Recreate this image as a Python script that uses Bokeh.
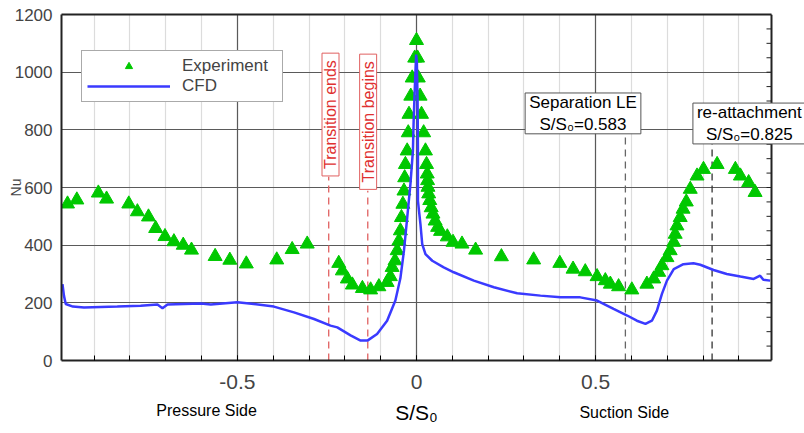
from bokeh.plotting import figure
from bokeh.layouts import column
from bokeh.models import (Range1d, FixedTicker, LinearAxis, Label, Legend, LegendItem,
                          CustomJSTickFormatter, Span, Grid)
from bokeh.core.properties import value
from bokeh.embed import file_html
from bokeh.resources import INLINE

# ---------------- data ----------------
exp_s = [-0.974, -0.948, -0.888, -0.865, -0.803, -0.779, -0.748, -0.728, -0.702, -0.677,
         -0.651, -0.628, -0.562, -0.521, -0.475, -0.390, -0.347, -0.305, -0.217, -0.207,
         -0.193, -0.179, -0.151, -0.128, -0.105, -0.082, -0.073, -0.068, -0.060, -0.054,
         -0.049, -0.045, -0.042, -0.038, -0.035, -0.033, -0.031, -0.026, -0.023, -0.021,
         -0.016, -0.012, -0.005, 0.000, 0.003, 0.005, 0.010, 0.014, 0.020, 0.025,
         0.028, 0.030, 0.031, 0.032, 0.034, 0.037, 0.041, 0.046, 0.052, 0.059,
         0.067, 0.086, 0.102, 0.127, 0.165, 0.237, 0.327, 0.400, 0.437, 0.471,
         0.504, 0.527, 0.541, 0.564, 0.601, 0.643, 0.662, 0.676, 0.685, 0.699,
         0.708, 0.718, 0.722, 0.727, 0.736, 0.744, 0.753, 0.764, 0.783, 0.801,
         0.839, 0.890, 0.904, 0.927, 0.945]
exp_nu = [543, 557, 581, 560, 543, 516, 498, 458, 430, 412,
          400, 383, 361, 348, 335, 349, 385, 404, 337, 311,
          283, 262, 250, 245, 256, 271, 291, 323, 346, 381,
          415, 450, 496, 542, 588, 634, 680, 727, 790, 854,
          917, 980, 1049, 1110, 1049, 980, 917, 854, 790, 727,
          680, 647, 624, 601, 578, 555, 530, 508, 484, 462,
          448, 429, 410, 404, 383, 360, 349, 337, 317, 308,
          291, 277, 265, 256, 245, 265, 283, 306, 329, 357,
          381, 410, 438, 467, 496, 525, 550, 594, 640, 663,
          680, 663, 640, 617, 583]

cfd_s = [-0.988, -0.984, -0.979, -0.959, -0.928, -0.835, -0.770, -0.723, -0.709, -0.695,
         -0.602, -0.574, -0.500, -0.454, -0.398, -0.342, -0.286, -0.240, -0.221, -0.184,
         -0.156, -0.137, -0.110, -0.082, -0.059, -0.045, -0.035, -0.026, -0.017, -0.010,
         -0.008, -0.004, -0.001, 0.001, 0.003, 0.004, 0.004, 0.011, 0.016, 0.025,
         0.044, 0.076, 0.104, 0.160, 0.216, 0.281, 0.346, 0.402, 0.457, 0.504,
         0.550, 0.588, 0.615, 0.639, 0.657, 0.671, 0.685, 0.699, 0.718, 0.745,
         0.773, 0.792, 0.829, 0.866, 0.904, 0.941, 0.959, 0.968, 0.987]
cfd_nu = [265, 225, 196, 187, 184, 187, 190, 194, 181, 194,
          198, 194, 202, 196, 187, 167, 144, 121, 115, 87,
          69, 69, 92, 138, 208, 285, 381, 495, 611, 727,
          830, 969, 1061, 1038, 900, 727, 554, 473, 404, 369,
          346, 323, 306, 277, 254, 233, 225, 219, 219, 208,
          179, 156, 138, 127, 138, 173, 231, 277, 317, 334,
          337, 332, 314, 300, 291, 283, 294, 280, 277]

x_ticks = [-0.5, 0, 0.5]
x_tick_labels = ["-0.5", "0", "0.5"]
x_minor_ticks = [-0.9, -0.8, -0.7, -0.6, -0.5, -0.4, -0.3, -0.2, -0.1, 0.0,
                 0.1, 0.2, 0.3, 0.4, 0.5, 0.6, 0.7, 0.8, 0.9]
y_ticks = [0, 200, 400, 600, 800, 1000, 1200]
y_right_ticks = list(range(0, 1201, 50))

x_axis_title = "S/S₀"
side_labels = ["Pressure Side", "Suction Side"]
side_label_s = [-0.586, 0.580]

transition_s = [-0.245, -0.136]          # transition ends / begins
separation_s = 0.583
reattach_s = 0.825

X_MIN, X_MAX = -0.9908, 0.9908          # plotted S/S0 extent (frame box)
X_VIEW_MAX = 1.0829                      # view extends to the page edge for the right label

FONT = "Liberation Sans"
AX = "#222222"

p = figure(width=804, height=399, x_range=Range1d(X_MIN, X_VIEW_MAX), y_range=Range1d(0, 1200),
           output_backend="svg", toolbar_location=None,
           min_border_left=61, min_border_right=0, min_border_top=14, min_border_bottom=39)
p.title.visible = False
p.background_fill_color = "white"
p.border_fill_color = "white"
p.outline_line_color = None

# x axis
xa = p.xaxis[0]
xa.ticker = FixedTicker(ticks=x_ticks, minor_ticks=x_minor_ticks)
xa.major_label_overrides = dict(zip(x_ticks, x_tick_labels))
xa.bounds = (X_MIN, X_MAX)
xa.major_tick_in = 5
xa.major_tick_out = 0
xa.minor_tick_in = 5
xa.minor_tick_out = 0
xa.major_label_standoff = 14
xa.major_label_text_font = FONT
xa.major_label_text_font_size = "21px"
xa.axis_line_color = AX
xa.axis_line_width = 2

# y axis
ya = p.yaxis[0]
ya.ticker = FixedTicker(ticks=y_ticks)
ya.major_tick_in = 0
ya.major_tick_out = 0
ya.minor_tick_line_color = None
ya.major_label_standoff = 9
ya.major_label_text_font = FONT
ya.major_label_text_font_size = "17px"
ya.axis_label = "Nu"
ya.axis_label_text_font = FONT
ya.axis_label_text_font_size = "14px"
ya.axis_label_text_font_style = "normal"
ya.axis_label_standoff = -12
ya.axis_line_color = AX
ya.axis_line_width = 2

# top border as an axis without ticks
ta = LinearAxis(ticker=FixedTicker(ticks=[]), bounds=(X_MIN, X_MAX),
                formatter=CustomJSTickFormatter(code="return ''"),
                major_tick_in=0, major_tick_out=0, minor_tick_line_color=None,
                major_label_standoff=0, axis_line_color=AX, axis_line_width=2)
p.add_layout(ta, "above")

# right border and inner ticks
p.add_layout(Span(location=X_MAX, dimension="height", line_color=AX, line_width=2))
p.ray(x=[X_MAX] * len(y_right_ticks), y=y_right_ticks, length=5, length_units="screen",
      angle=180, angle_units="deg", line_color=AX, line_width=1)

# grids
p.xgrid.grid_line_color = "#5a5a5a"
p.xgrid.grid_line_width = 1.2
p.xgrid.minor_grid_line_color = "#dcdcdc"
p.xgrid.minor_grid_line_width = 1.2
if "cross_bounds" in Grid.properties():
    p.ygrid.cross_bounds = (X_MIN, X_MAX)
    p.ygrid.grid_line_color = "#5a5a5a"
    p.ygrid.grid_line_width = 1.2
else:
    p.ygrid.visible = False
    p.segment(x0=[X_MIN] * len(y_ticks), y0=y_ticks, x1=[X_MAX] * len(y_ticks), y1=y_ticks,
              line_color="#5a5a5a", line_width=1.2)

# dashed marker lines
p.segment(x0=transition_s, y0=[0, 0], x1=transition_s, y1=[637, 589],
          line_color="#e06060", line_width=1.3, line_dash="7 5")
p.segment(x0=[separation_s], y0=[0], x1=[separation_s], y1=[786],
          line_color="#666666", line_width=1.3, line_dash="7 5")
p.segment(x0=[reattach_s], y0=[0], x1=[reattach_s], y1=[752],
          line_color="#333333", line_width=1.3, line_dash="7 5")

# data
r_exp = p.scatter(exp_s, exp_nu, marker="triangle", size=14,
                  fill_color="#00c800", line_color="#00c800")
r_cfd = p.line(cfd_s, cfd_nu, line_color="#3a3aff", line_width=2.5)

legend = Legend(items=[LegendItem(label="Experiment", renderers=[r_exp]),
                       LegendItem(label="CFD", renderers=[r_cfd])],
                location=(20, 258), padding=5, margin=0, spacing=0,
                glyph_width=83, glyph_height=18, label_height=18, label_standoff=12,
                label_width=95,
                label_text_font=FONT, label_text_font_size="17px",
                border_line_color="#555555", border_line_width=1,
                background_fill_color="white", background_fill_alpha=1)
p.add_layout(legend)

# annotations
for s, nu, txt in [(-0.240, 853, "Transition ends"), (-0.135, 828, "Transition begins")]:
    p.add_layout(Label(x=s, y=nu, text=txt, angle=90, angle_units="deg",
                       text_align="center", text_baseline="middle",
                       text_font=FONT, text_font_size="16px", text_color="#e03030",
                       text_line_height=1.0,
                       border_line_color="#e06060", border_line_width=1,
                       background_fill_color="white", padding=(7, 0)))

p.add_layout(Label(x=0.4647, y=857, text="Separation LE\nS/S₀=0.583",
                   text_align="center", text_baseline="middle",
                   text_font=FONT, text_font_size="17px", text_color="black",
                   text_line_height=1.15,
                   border_line_color="#555555", border_line_width=1,
                   background_fill_color="white", padding=(4, 0)))
p.add_layout(Label(x=0.929, y=822, text="re-attachment\nS/S₀=0.825",
                   text_align="center", text_baseline="middle",
                   text_font=FONT, text_font_size="17px", text_color="black",
                   text_line_height=1.15,
                   border_line_color="#555555", border_line_width=1,
                   background_fill_color="white", padding=(4, 0)))

# strip below the axis: axis title and side names, aligned on the same S/S0 scale
p2 = figure(width=804, height=34, x_range=p.x_range, y_range=Range1d(0, 34),
            output_backend="svg", toolbar_location=None, x_axis_type=None, y_axis_type=None,
            min_border_left=61, min_border_right=0, min_border_top=0, min_border_bottom=0)
p2.title.visible = False
p2.outline_line_color = None
p2.background_fill_color = "white"
p2.border_fill_color = "white"
p2.text(x=side_label_s, y=[23, 21.5], text=side_labels, text_font=value(FONT),
        text_font_size="16px", text_align="center", text_baseline="middle", text_color="black")
p2.text(x=[0], y=[21.5], text=[x_axis_title], text_font=value(FONT),
        text_font_size="21px", text_align="center", text_baseline="middle", text_color="black")

layout = column(p, p2, spacing=0)
open("out.html", "w").write(file_html(layout, INLINE))
